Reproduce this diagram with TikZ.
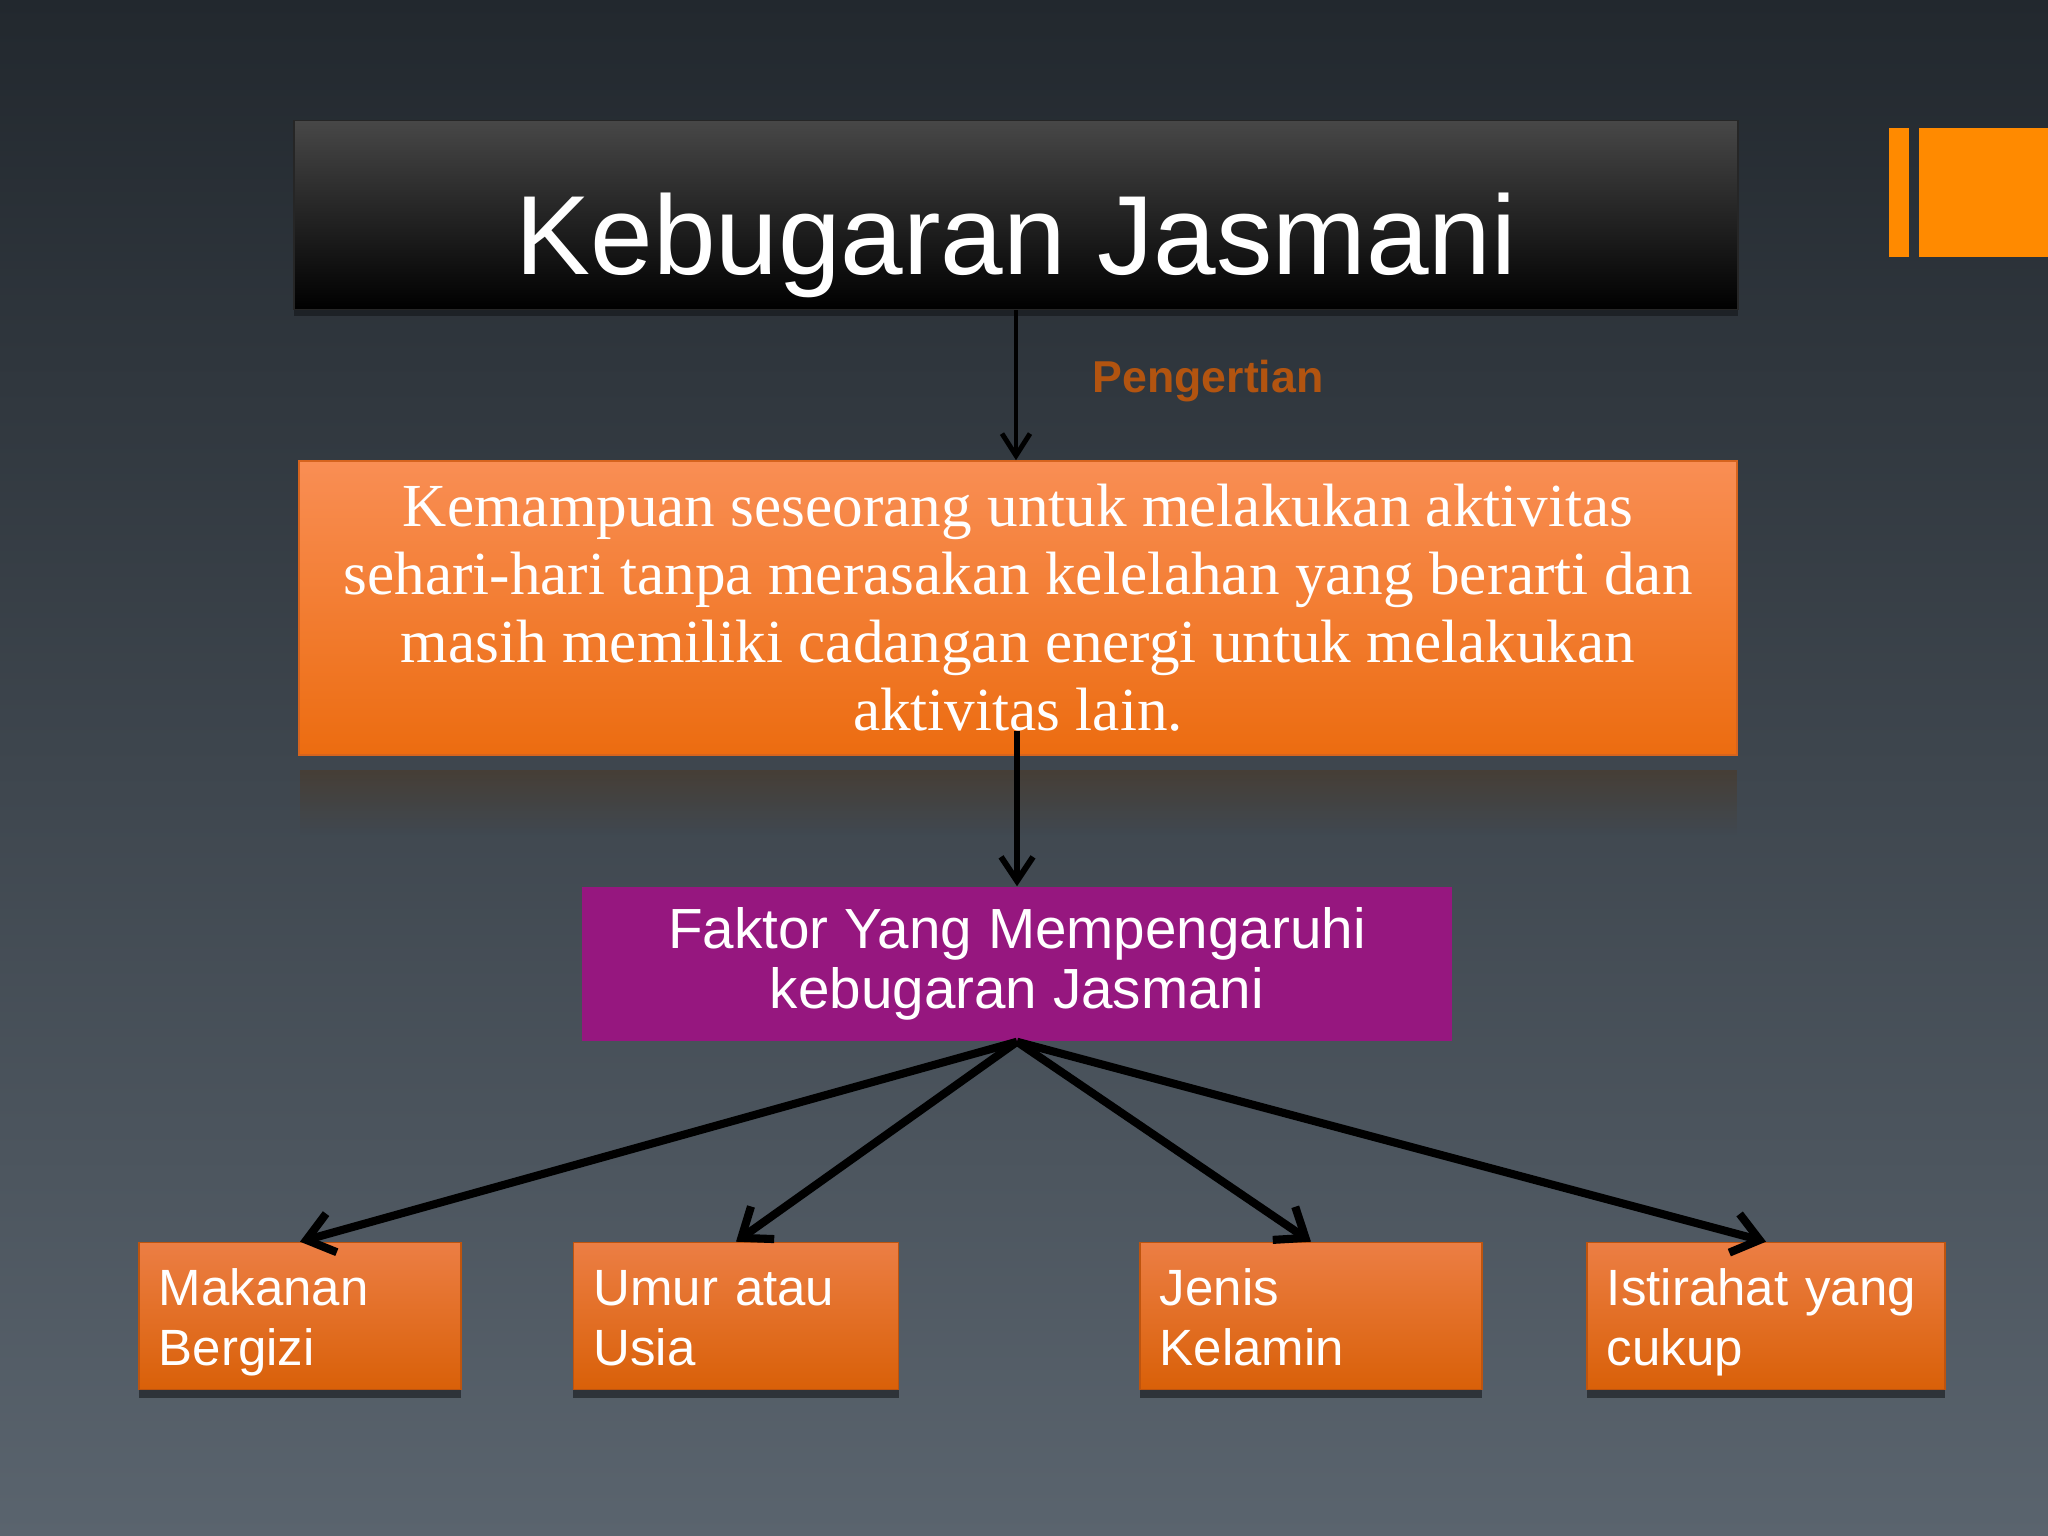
\documentclass[tikz,border=0pt]{standalone}
\usepackage{fontspec}
\setmainfont{Liberation Sans}
\newfontfamily\bodyserif{Liberation Serif}
\usetikzlibrary{arrows.meta,shadows,fadings}

\definecolor{bgtop}{RGB}{34,40,46}
\definecolor{bgmid}{RGB}{50,57,64}
\definecolor{bgbottom}{RGB}{90,100,110}
\definecolor{accent}{RGB}{255,138,0}
\definecolor{linkbrown}{RGB}{178,84,16}
\definecolor{deftop}{RGB}{249,142,84}
\definecolor{defmid}{RGB}{247,124,34}
\definecolor{defbottom}{RGB}{236,108,16}
\definecolor{defedge}{RGB}{214,100,30}
\definecolor{faktorpurple}{RGB}{150,23,127}
\definecolor{leaftop}{RGB}{236,126,68}
\definecolor{leafbottom}{RGB}{217,96,8}
\definecolor{leafedge}{RGB}{190,84,14}

\begin{document}
\begin{tikzpicture}[x=0.01cm, y=-0.01cm,
        titlebox/.style={rectangle, draw=black!85, top color=black!72, middle color=black, bottom color=black, minimum width=14.43cm, minimum height=1.89cm, drop shadow={shadow xshift=0pt, shadow yshift=-0.6mm, opacity=0.35, fill=black}},
        titletext/.style={text=white, font=\fontsize{32}{36}\selectfont},
        linklabel/.style={text=linkbrown, font=\bfseries\fontsize{12.7}{15}\selectfont},
        defbox/.style={rectangle, draw=defedge, top color=deftop, middle color=defmid, bottom color=defbottom, minimum width=14.37cm, minimum height=2.94cm, text=white, align=center, font=\bodyserif\fontsize{17.4}{19.3}\selectfont},
        factorbox/.style={rectangle, fill=faktorpurple, minimum width=8.7cm, minimum height=1.54cm, text=white, align=center, font=\fontsize{16.1}{17.2}\selectfont},
        leafbox/.style={rectangle, draw=leafedge, top color=leaftop, bottom color=leafbottom, text=white, align=left, text width=#1, inner xsep=0.2cm, minimum height=1.45cm, font=\fontsize{14.5}{17.2}\selectfont, execute at begin node=\rule{0pt}{14.5pt}, execute at end node=\rule[-3.5pt]{0pt}{3.5pt}, drop shadow={shadow xshift=0pt, shadow yshift=-0.8mm, opacity=0.45, fill=black}},
        thinarrow/.style={-{Straight Barb[length=2.2mm, width=2.8mm]}, line width=1.4pt},
        midarrow/.style={-{Straight Barb[length=2.4mm, width=3.2mm]}, line width=1.7pt},
        leafarrow/.style={-{Straight Barb[length=2.6mm, width=4mm]}, line width=2.3pt}
    ]
        % Background
        \shade[top color=bgtop, middle color=bgmid, bottom color=bgbottom] (0,0) rectangle (2048,1536);

        % Accent bars top right
        \fill[accent] (1889,128) rectangle (1909,257);
        \fill[accent] (1919,128) rectangle (2048,257);

        % Title
        \node[titlebox] (title) at (1016,215) {};
        \node[titletext] (titletext) at (1016,245) {Kebugaran Jasmani};
        \node[linklabel] (pengertian) at (1208,381) {Pengertian};

        % Definition box and its reflection
        \node[defbox] (definition) at (1018,608) {Kemampuan seseorang untuk melakukan aktivitas\\sehari-hari tanpa merasakan kelelahan yang berarti dan\\masih memiliki cadangan energi untuk melakukan\\aktivitas lain.};
        \fill[orange!35!black, opacity=0.3, path fading=south] (300,770) rectangle (1737,835);
        \coordinate (deffoot) at (1017,731);

        % Factors
        \node[factorbox] (faktor) at (1017,964) {Faktor Yang Mempengaruhi\\kebugaran Jasmani};
        \node[leafbox=2.82cm] (makanan) at (300,1316) {Makanan\\Bergizi};
        \node[leafbox=2.85cm] (umur) at (736,1316) {Umur atau\\Usia};
        \node[leafbox=3.02cm] (jenis) at (1311,1316) {Jenis\\Kelamin};
        \node[leafbox=3.18cm] (istirahat) at (1766,1316) {Istirahat yang\\cukup};

        % Arrows
        \draw[thinarrow] (title.south) -- (title.south |- definition.north);
        \draw[midarrow] (deffoot) -- (deffoot |- faktor.north);
        \foreach \leaf in {makanan,umur,jenis,istirahat} {
            \draw[leafarrow] (faktor.south) -- (\leaf.north);
        }

    \end{tikzpicture}
\end{document}
